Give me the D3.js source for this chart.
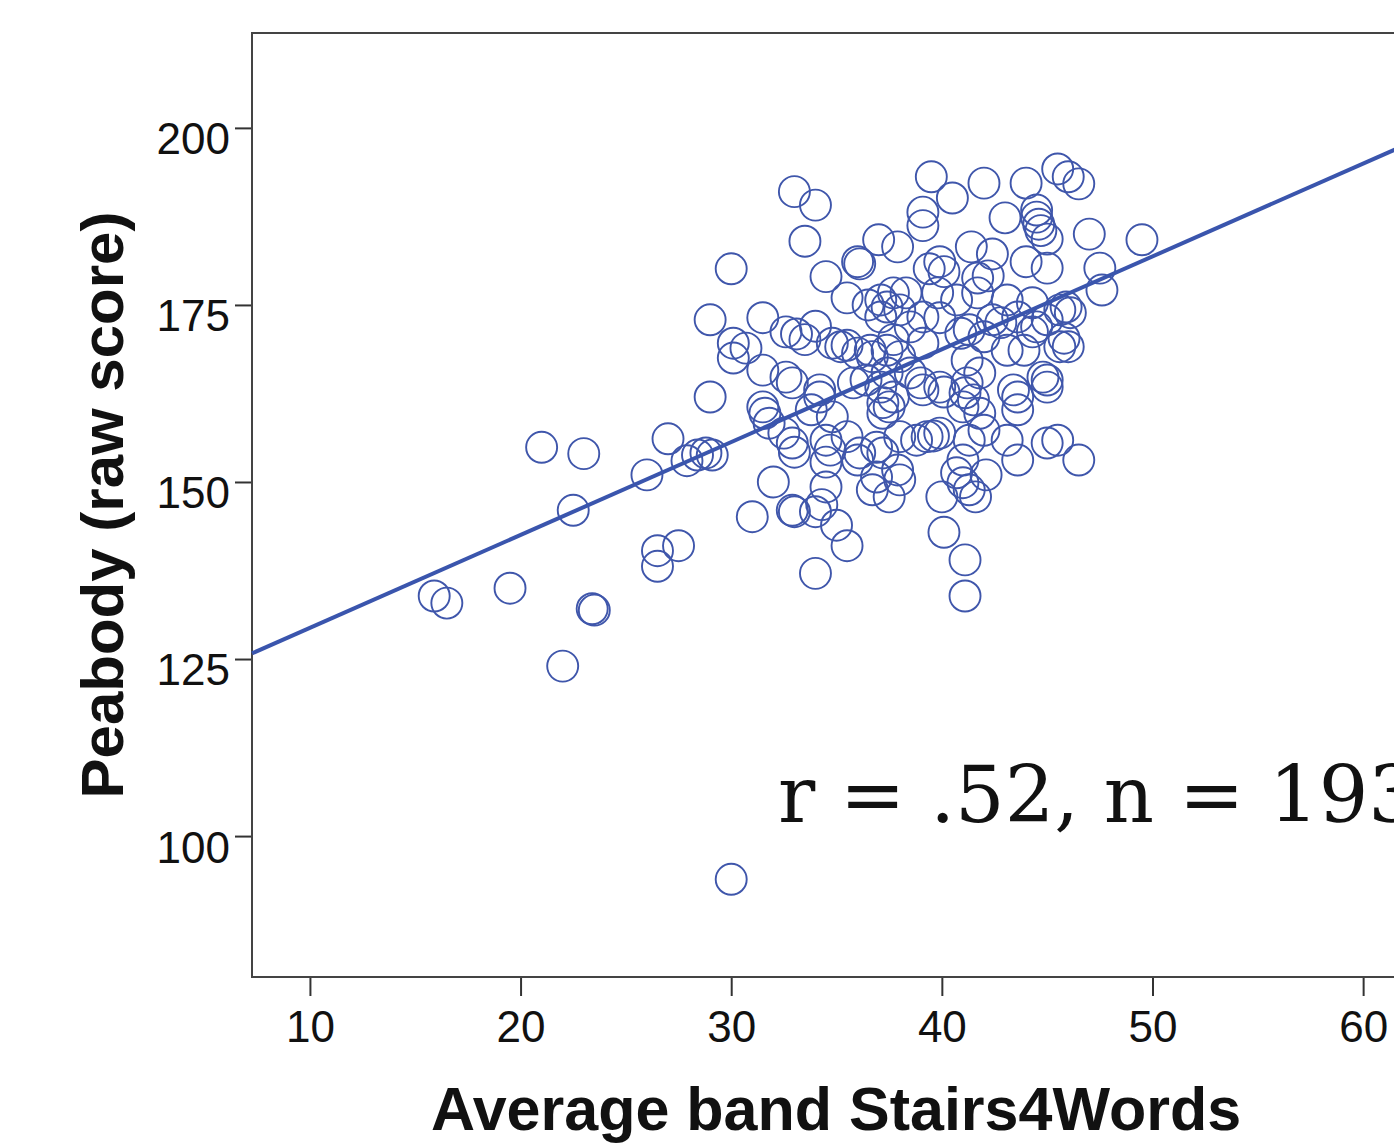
<!DOCTYPE html>
<html>
<head>
<meta charset="utf-8">
<style>
  body { margin: 0; background: #fff; }
  svg { display: block; }
  .axis text { font-family: "Liberation Sans", Arial, sans-serif; font-size: 44px; fill: #111; }
  .axis line { stroke: #333; stroke-width: 2px; }
  .axis path { display: none; }
</style>
</head>
<body>
<svg width="1394" height="1145"></svg>
<script src="https://d3js.org/d3.v7.min.js"></script>
<script>
var bandValues = [
  21.0, 23.0, 22.5, 15.9, 16.5, 19.5, 23.4, 23.5, 22.0, 26.0,
  27.0, 26.5, 26.5, 27.5, 27.9, 28.4, 28.8, 29.1, 29.0, 29.0,
  30.0, 30.0, 30.1, 30.7, 30.1, 31.0, 32.0, 33.0, 34.0, 33.5,
  34.5, 31.5, 31.5, 31.5, 31.6, 31.8, 32.6, 33.1, 33.5, 34.0,
  32.6, 32.9, 32.5, 32.9, 33.0, 32.9, 33.0, 34.0, 35.0, 35.5,
  34.0, 40.1, 41.1, 41.1, 34.2, 34.2, 33.8, 34.8, 34.5, 34.7,
  34.5, 35.5, 34.5, 34.3, 36.0, 35.2, 34.8, 35.5, 36.0, 36.7,
  37.4, 38.0, 35.8, 37.1, 37.7, 37.2, 37.4, 36.4, 36.0, 36.1,
  37.0, 37.9, 35.5, 36.5, 37.1, 37.4, 37.7, 38.0, 37.1, 39.5,
  42.0, 44.0, 45.5, 46.0, 46.5, 40.5, 39.1, 39.1, 43.0, 44.5,
  44.5, 44.6, 44.7, 45.0, 47.0, 49.5, 41.4, 42.4, 44.0, 45.0,
  47.5, 47.6, 39.9, 39.4, 40.1, 41.7, 42.2, 38.3, 39.8, 41.7,
  40.7, 45.9, 44.3, 43.6, 45.0, 46.1, 42.8, 39.1, 39.9, 38.5,
  41.3, 42.0, 44.3, 45.8, 39.1, 46.0, 45.0, 45.0, 43.6, 43.6,
  41.5, 41.1, 41.0, 41.8, 42.0, 43.1, 43.6, 45.0, 45.5, 46.5,
  39.1, 40.1, 38.5, 38.0, 38.8, 39.3, 39.6, 39.9, 41.0, 41.0,
  42.1, 41.6, 40.0, 37.9, 38.0, 37.5, 36.9, 37.2, 41.3, 36.9,
  36.7, 41.3, 40.7, 36.1, 37.5, 37.2, 40.9, 36.6, 37.7, 39.0,
  39.9, 41.2, 45.6, 43.1, 44.5, 45.6, 43.9, 43.1, 42.4, 44.8,
  43.4, 41.8, 41.2
];
var peabodyValues = [
  154.9, 154.0, 146.0, 133.9, 132.9, 135.0, 132.1, 131.9, 124.0, 151.0,
  156.1, 140.3, 138.1, 141.0, 153.0, 153.8, 154.1, 153.8, 172.9, 162.0,
  180.1, 93.9, 169.6, 168.9, 167.5, 145.1, 150.0, 191.0, 189.1, 184.0,
  179.0, 173.2, 165.8, 160.6, 159.7, 158.3, 171.2, 170.9, 170.1, 172.0,
  164.8, 164.0, 156.9, 155.5, 154.2, 146.0, 145.8, 145.8, 143.9, 141.0,
  137.1, 142.9, 139.0, 133.9, 163.0, 162.0, 160.2, 159.2, 155.9, 154.5,
  152.8, 156.4, 149.3, 146.8, 153.1, 169.1, 169.6, 169.3, 168.2, 167.7,
  168.6, 167.7, 164.0, 163.4, 162.0, 161.2, 165.4, 164.4, 181.1, 180.8,
  184.2, 183.2, 176.0, 175.0, 175.7, 174.7, 176.7, 174.3, 173.3, 193.1,
  192.2, 192.2, 194.2, 193.1, 192.1, 190.1, 188.1, 186.2, 187.3, 188.4,
  187.4, 186.4, 185.5, 184.3, 185.0, 184.2, 183.2, 182.2, 181.1, 180.2,
  180.2, 177.1, 181.1, 180.1, 179.7, 178.8, 179.1, 176.7, 176.7, 176.7,
  175.7, 174.7, 175.3, 173.3, 172.9, 173.9, 172.5, 173.3, 173.2, 171.9,
  171.5, 170.5, 171.2, 170.3, 169.6, 169.1, 164.4, 163.4, 162.0, 160.2,
  161.6, 162.6, 160.6, 159.7, 157.3, 155.9, 153.1, 155.5, 155.9, 153.1,
  163.0, 162.7, 165.4, 156.4, 155.9, 156.4, 156.5, 156.9, 153.1, 149.9,
  151.0, 147.9, 147.9, 151.7, 150.3, 147.9, 154.9, 154.1, 155.9, 150.7,
  148.9, 148.9, 151.3, 154.1, 160.6, 159.7, 171.0, 168.6, 170.1, 164.0,
  163.4, 164.0, 174.3, 175.7, 171.9, 169.1, 168.6, 168.6, 172.9, 164.8,
  163.0, 165.4, 167.2
];
var xTicks = [10, 20, 30, 40, 50, 60],
    yTicks = [100, 125, 150, 175, 200];
var fitSlope = 1.311, fitIntercept = 116.3; //regressielijn
var statLabel = "r = .52, n = 193";

var data = bandValues.map(function(d, i) { return {band: d, peabody: peabodyValues[i]}; });

var svg = d3.select("svg"),
    margin = {top: 33, left: 252},
    width = 1168,   //loopt voorbij de rechterrand, net als het origineel
    height = 944;

var x = d3.scaleLinear().domain([7.25, 62.7]).range([0, width]),
    y = d3.scaleLinear().domain([80.1, 213.4]).range([height, 0]);

var g = svg.append("g")
    .attr("transform", "translate(" + margin.left + "," + margin.top + ")");

//x-as
g.append("g")
    .attr("class", "axis axis--x")
    .attr("transform", "translate(0," + height + ")")
    .call(d3.axisBottom(x).tickValues(xTicks).tickSize(19).tickPadding(15));

//y-as
g.append("g")
    .attr("class", "axis axis--y")
    .call(d3.axisLeft(y).tickValues(yTicks).tickSize(17).tickPadding(5))
  .selectAll("text")
    .attr("dy", "0.59em");

//kader
g.append("rect")
    .attr("width", width)
    .attr("height", height)
    .attr("fill", "none")
    .attr("stroke", "#444")
    .attr("stroke-width", 2);

//cirkels
g.selectAll(".dot")
  .data(data)
  .enter().append("circle")
    .attr("class", "dot")
    .attr("cx", function(d) { return x(d.band); })
    .attr("cy", function(d) { return y(d.peabody); })
    .attr("r", 15.5)
    .attr("fill", "none")
    .attr("stroke", "#3f56ab")
    .attr("stroke-width", 1.9);

//regressielijn
var xd = x.domain();
g.append("line")
    .attr("x1", x(xd[0]))
    .attr("y1", y(fitIntercept + fitSlope * xd[0]))
    .attr("x2", x(xd[1]))
    .attr("y2", y(fitIntercept + fitSlope * xd[1]))
    .attr("stroke", "#3a55ad")
    .attr("stroke-width", 4);

//r en n (loopt net als in het origineel over de rechterrand)
g.append("text")
    .attr("x", 778 - margin.left)
    .attr("y", 822 - margin.top)
    .attr("font-family", "'DejaVu Serif', serif")
    .attr("font-size", 78)
    .attr("fill", "#111")
    .text(statLabel);

//astitels
svg.append("text")
    .attr("x", margin.left + width / 2)
    .attr("y", 1130)
    .attr("text-anchor", "middle")
    .attr("font-family", "'Liberation Sans', Arial, sans-serif")
    .attr("font-weight", "bold")
    .attr("font-size", 61)
    .attr("fill", "#111")
    .text("Average band Stairs4Words");

svg.append("text")
    .attr("transform", "translate(123," + (margin.top + height / 2) + ") rotate(-90)")
    .attr("text-anchor", "middle")
    .attr("font-family", "'Liberation Sans', Arial, sans-serif")
    .attr("font-weight", "bold")
    .attr("font-size", 60)
    .attr("fill", "#111")
    .text("Peabody (raw score)");
</script>
</body>
</html>
